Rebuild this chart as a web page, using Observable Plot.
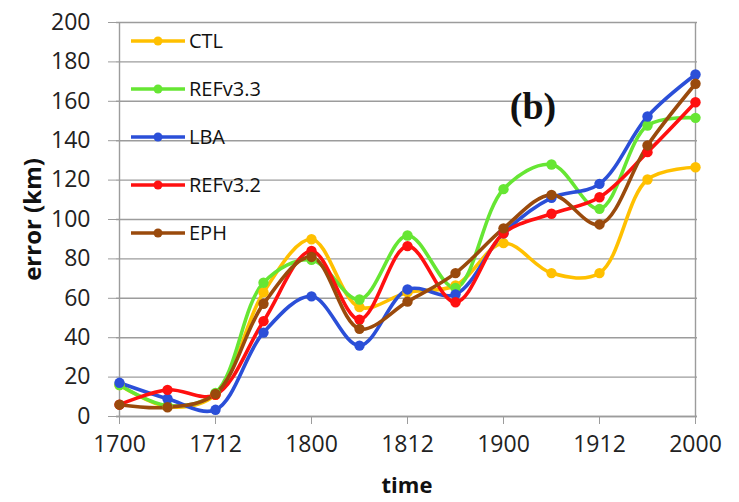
<!DOCTYPE html>
<html>
<head>
<meta charset="utf-8">
<script src="https://cdn.jsdelivr.net/npm/d3@7"></script>
<script src="https://cdn.jsdelivr.net/npm/@observablehq/plot@0.6"></script>
<style>
  html, body { margin: 0; padding: 0; background: #fff; }
  #chart { width: 739px; height: 502px; }
</style>
</head>
<body>
<div id="chart"></div>
<script>
const times = ["1700","1706","1712","1718","1800","1806","1812","1818","1900","1906","1912","1918","2000"];
const xTickLabels = ["1700","1712","1800","1812","1900","1912","2000"];
const yTicks = [0,20,40,60,80,100,120,140,160,180,200];
const seriesNames = ["CTL","REFv3.3","LBA","REFv3.2","EPH"];
const seriesColors = ["#FFC000","#66E633","#2B4FD8","#FF1010","#9A4A0C"];

const CTL     = [16, 5, 11, 63, 90, 55.5, 63, 66.5, 88, 72.8, 72.8, 120.3, 126.5];
const REFv33  = [16, 5.5, 12, 67.9, 79.5, 59.4, 91.9, 65.3, 115.4, 127.9, 105.4, 147.7, 151.6];
const LBA     = [17.1, 9, 3.4, 42.6, 61, 36, 64.5, 62, 93, 111, 118.1, 152.3, 173.6];
const REFv32  = [6, 13.5, 11, 48.4, 84, 49.2, 86.5, 58, 93, 102.9, 111.3, 134.2, 159.5];
const EPH     = [6, 4.7, 11.5, 57.2, 81, 44.5, 58.3, 72.8, 95.5, 112.5, 97.5, 137.6, 168.9];

const seriesValues = [CTL, REFv33, LBA, REFv32, EPH];
const data = [];
seriesNames.forEach((s, si) => {
  times.forEach((t, i) => data.push({series: s, time: t, value: seriesValues[si][i]}));
});

const font = "'Open Sans', 'Liberation Sans', sans-serif";

const plot = Plot.plot({
  width: 739,
  height: 502,
  marginLeft: 116,
  marginRight: 42,
  marginTop: 22,
  marginBottom: 86,
  style: {fontFamily: font, background: "#fff", overflow: "visible"},
  x: {type: "point", domain: times, padding: 0},
  y: {domain: [0, 200]},
  color: {domain: seriesNames, range: seriesColors},
  marks: [
    Plot.gridY(yTicks, {stroke: "#9c9c9c", strokeOpacity: 1, strokeWidth: 1.4}),
    Plot.ruleX([times[0]], {stroke: "#9c9c9c", strokeWidth: 1.4}),
    Plot.ruleX([times[times.length - 1]], {stroke: "#9c9c9c", strokeWidth: 1.4}),
    Plot.ruleY([0], {stroke: "#9c9c9c", strokeWidth: 1.4}),
    Plot.axisY({ticks: yTicks, tickSize: 8, tickPadding: 18, stroke: "#9c9c9c", fontSize: 23, fill: "#222",
      label: "error (km)", labelAnchor: "center", labelArrow: "none", labelOffset: 93}),
    Plot.axisX({ticks: xTickLabels, tickSize: 8, tickPadding: 11, stroke: "#9c9c9c", fontSize: 23, fill: "#222",
      label: "time", labelAnchor: "center", labelArrow: "none", labelOffset: 76}),
    Plot.line(data, {x: "time", y: "value", z: "series", stroke: "series", strokeWidth: 3.6, curve: "catmull-rom"}),
    Plot.dot(data, {x: "time", y: "value", fill: "series", r: 5.2})
  ]
});

document.getElementById("chart").appendChild(plot);

const svg = d3.select(plot);
// bold axis labels
svg.selectAll("g[aria-label='y-axis label'] text")
  .style("font-weight", "bold").style("font-size", "24px").style("fill", "#111");
svg.selectAll("g[aria-label='x-axis label'] text")
  .style("font-weight", "bold").style("font-size", "22px").style("fill", "#111");

// legend inside plot area
const leg = svg.append("g").attr("font-family", font).attr("font-size", 20).attr("text-anchor", "start");
seriesNames.forEach((s, i) => {
  const y = 41 + i * 48;
  const c = seriesColors[i];
  leg.append("line").attr("x1", 131).attr("x2", 185).attr("y1", y).attr("y2", y)
    .attr("stroke", c).attr("stroke-width", 3.6);
  leg.append("circle").attr("cx", 158).attr("cy", y).attr("r", 4.5).attr("fill", c);
  leg.append("text").attr("x", 189).attr("y", y).attr("dy", "0.35em").attr("fill", "#111")
    .attr("text-anchor", "start").text(s);
});

// panel label
svg.append("text").attr("x", 533).attr("y", 106).attr("dy", "0.35em")
  .attr("text-anchor", "middle").attr("font-family", "'Liberation Serif', 'DejaVu Serif', serif")
  .attr("font-weight", "bold").attr("font-size", 38).attr("fill", "#111").text("(b)");
</script>
</body>
</html>
